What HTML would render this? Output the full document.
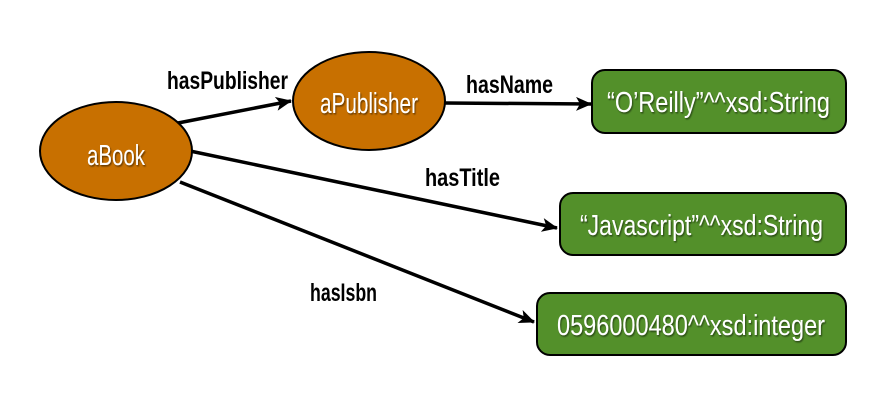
<!DOCTYPE html>
<html><head><meta charset="utf-8"><style>
html,body{margin:0;padding:0;background:#fff;width:885px;height:408px;overflow:hidden}
text{font-family:"Liberation Sans",sans-serif}
</style></head><body>
<svg width="885" height="408" viewBox="0 0 885 408" xmlns="http://www.w3.org/2000/svg">
<defs>
<marker id="a" markerWidth="16" markerHeight="14" refX="15" refY="7" orient="auto" markerUnits="userSpaceOnUse" viewBox="0 0 16 14">
<path d="M0,0 L16,7 L0,14 L4,7 z" fill="#000"/>
</marker>
<filter id="s" x="-10%" y="-10%" width="120%" height="130%"><feDropShadow dx="1" dy="1.5" stdDeviation="0.8" flood-color="#000" flood-opacity="0.5"/></filter>
</defs>
<g stroke="#000" stroke-width="3.5" fill="none">
<line x1="178" y1="123" x2="291" y2="101" marker-end="url(#a)"/>
<line x1="445" y1="103" x2="591" y2="104" marker-end="url(#a)"/>
<line x1="190" y1="151" x2="557" y2="228" marker-end="url(#a)"/>
<line x1="180" y1="182" x2="534" y2="322" marker-end="url(#a)"/>
</g>
<g stroke="#000" stroke-width="2">
<ellipse cx="116" cy="151" rx="76" ry="49" fill="#c87000"/>
<ellipse cx="369" cy="101" rx="76" ry="49" fill="#c87000"/>
<rect x="592" y="70" width="254" height="63" rx="13" fill="#53902a"/>
<rect x="560" y="193" width="286" height="62" rx="13" fill="#53902a"/>
<rect x="537" y="293" width="309" height="62" rx="13" fill="#53902a"/>
</g>
<g fill="#fff" font-size="29" filter="url(#s)">
<text x="87" y="165" textLength="58" lengthAdjust="spacingAndGlyphs">aBook</text>
<text x="320" y="113" textLength="98" lengthAdjust="spacingAndGlyphs">aPublisher</text>
<text x="607" y="112" textLength="223" lengthAdjust="spacingAndGlyphs">“O’Reilly”^^xsd:String</text>
<text x="580" y="235" textLength="243" lengthAdjust="spacingAndGlyphs">“Javascript”^^xsd:String</text>
<text x="557" y="335" textLength="268" lengthAdjust="spacingAndGlyphs">0596000480^^xsd:integer</text>
</g>
<g fill="#000" font-size="25" font-weight="bold">
<text x="167" y="89" textLength="121" lengthAdjust="spacingAndGlyphs">hasPublisher</text>
<text x="466" y="93" textLength="87" lengthAdjust="spacingAndGlyphs">hasName</text>
<text x="425" y="186" textLength="75" lengthAdjust="spacingAndGlyphs">hasTitle</text>
<text x="310" y="301" textLength="67" lengthAdjust="spacingAndGlyphs">hasIsbn</text>
</g>
</svg>
</body></html>
